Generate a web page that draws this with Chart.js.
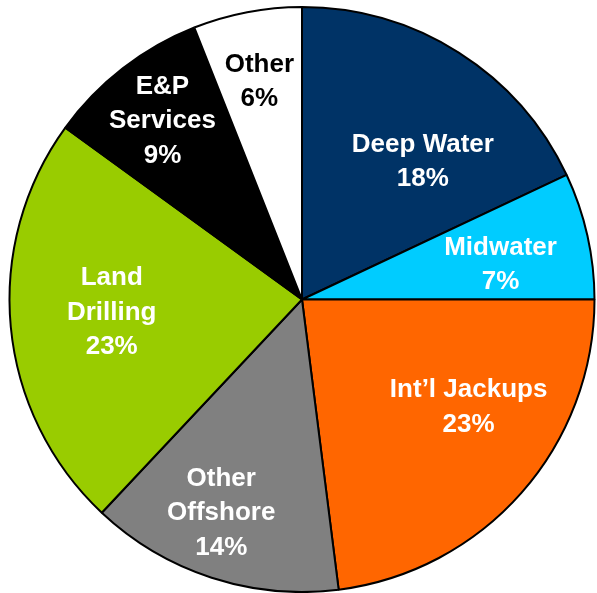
<!DOCTYPE html>
<html>
<head>
<meta charset="utf-8">
<title>Rig Mix</title>
<script src="https://cdn.jsdelivr.net/npm/chart.js@4.4.1/dist/chart.umd.min.js"></script>
<style>
    html, body { margin: 0; padding: 0; background: #ffffff; }
    #wrap { width: 597px; height: 593px; }
</style>
</head>
<body>
<div id="wrap"><canvas id="mixChart" width="597" height="593"></canvas></div>
<script>
// Segments, clockwise from 12 o'clock
const categories = ['Deep Water', 'Midwater', 'Int\u2019l Jackups', ['Other', 'Offshore'], ['Land', 'Drilling'], ['E&P', 'Services'], 'Other'];
const shares = [18, 7, 23, 14, 23, 9, 6];

const sliceColors = ['#003366', '#00CCFF', '#FF6600', '#808080', '#99CC00', '#000000', '#FFFFFF'];
const textColors = ['#ffffff', '#ffffff', '#ffffff', '#ffffff', '#ffffff', '#ffffff', '#000000'];
// pixel nudges from the default label spot on each bisector
const labelNudge = [[19, 23], [13, 7], [24, -18], [-22, 33], [-1, -5], [-23, -28], [-7, -31]];

// Draws the category name + percentage inside every slice
const sliceLabels = {
    id: 'sliceLabels',
    afterDatasetsDraw(chart) {
        const ctx = chart.ctx;
        const meta = chart.getDatasetMeta(0);
        ctx.save();
        ctx.font = 'bold 26px "Liberation Sans", Arial, sans-serif';
        ctx.textAlign = 'center';
        ctx.textBaseline = 'middle';
        const lineH = 34.5;
        meta.data.forEach(function(arc, i) {
            const p = arc.getProps(['x', 'y', 'startAngle', 'endAngle', 'outerRadius'], true);
            const mid = (p.startAngle + p.endAngle) / 2;
            const r = p.outerRadius * 0.65;
            const cx = p.x + Math.cos(mid) * r + labelNudge[i][0];
            const cy = p.y + Math.sin(mid) * r + labelNudge[i][1];
            const name = categories[i];
            const lines = (Array.isArray(name) ? name.slice() : [name]);
            lines.push(shares[i] + '%');
            ctx.fillStyle = textColors[i];
            const top = cy - (lines.length - 1) * lineH / 2;
            lines.forEach(function(line, j) {
                ctx.fillText(line, cx, top + j * lineH);
            });
        });
        ctx.restore();
    }
};

const ctx = document.getElementById('mixChart').getContext('2d');
new Chart(ctx, {
    type: 'pie',
    data: {
        labels: categories,
        datasets: [{
            data: shares,
            backgroundColor: sliceColors,
            borderColor: '#000000',
            borderWidth: 2
        }]
    },
    options: {
        responsive: false,
        animation: false,
        rotation: 0,
        layout: {
            padding: { left: 8, right: 1, top: 6, bottom: 0 }
        },
        plugins: {
            legend: { display: false },
            tooltip: { enabled: false }
        }
    },
    plugins: [sliceLabels]
});
</script>
</body>
</html>
